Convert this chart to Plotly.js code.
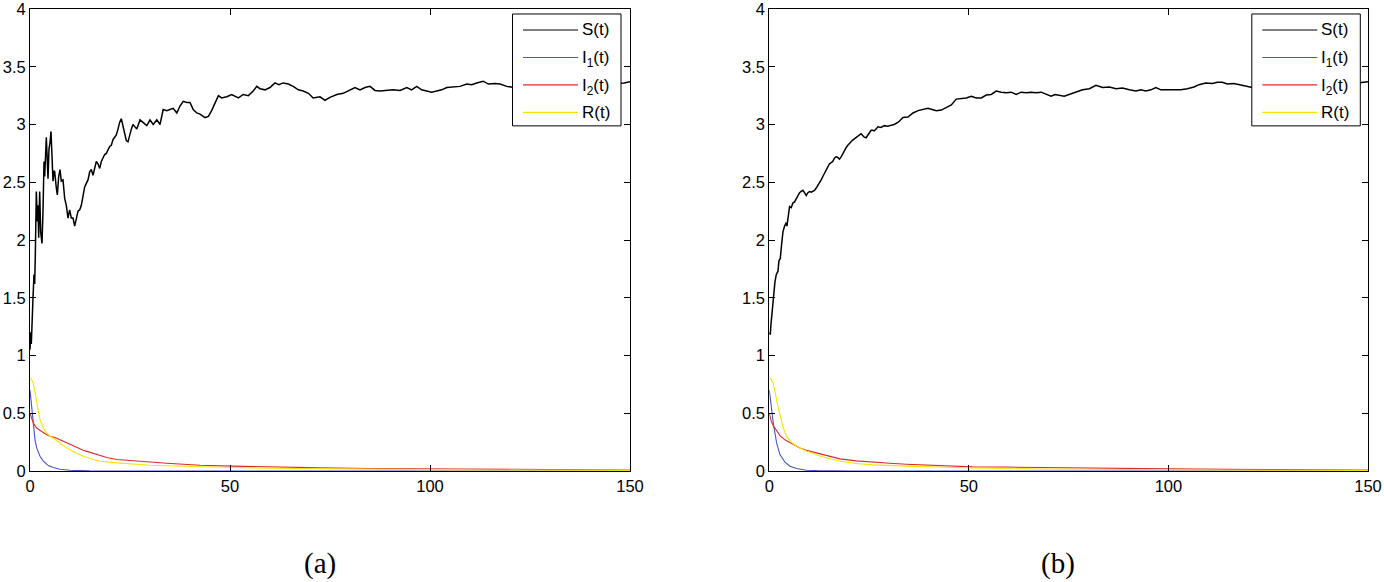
<!DOCTYPE html>
<html>
<head>
<meta charset="utf-8">
<script src="https://cdn.plot.ly/plotly-3.0.1.min.js"></script>
<style>html,body{margin:0;padding:0;background:#fff;}#chart{width:1384px;height:582px;}</style>
</head>
<body>
<div id="chart"></div>
<script>
// ---------- data: [t, value] ----------
const S_a = [[0,1.05],[0.17,1.2],[0.33,1.1],[0.5,1.38],[0.75,1.5],[1.0,1.7],[1.17,1.62],[1.33,1.87],[1.58,2.42],[1.83,2.16],[2.0,2.3],[2.17,2.02],[2.42,2.42],[2.67,2.07],[3.0,1.97],[3.25,2.25],[3.5,2.68],[3.67,2.55],[3.83,2.79],[4.08,2.89],[4.33,2.68],[4.5,2.53],[4.75,2.79],[5.0,2.84],[5.25,2.94],[5.5,2.74],[5.75,2.51],[6.0,2.6],[6.17,2.59],[6.58,2.45],[6.83,2.39],[7.17,2.55],[7.5,2.61],[7.83,2.51],[8.25,2.52],[8.67,2.36],[9.08,2.3],[9.5,2.19],[9.92,2.26],[10.33,2.19],[10.75,2.19],[11.17,2.12],[11.58,2.2],[12.0,2.25],[12.42,2.26],[12.83,2.3],[13.25,2.38],[13.67,2.46],[14.08,2.49],[14.5,2.52],[14.92,2.59],[15.33,2.61],[15.75,2.56],[16.17,2.61],[16.58,2.68],[17.0,2.66],[17.42,2.62],[17.83,2.68],[18.25,2.71],[18.67,2.74],[19.08,2.75],[19.5,2.78],[19.92,2.81],[20.33,2.82],[20.75,2.87],[21.17,2.89],[21.58,2.91],[22.0,2.96],[22.42,3.02],[22.83,3.05],[23.25,2.98],[23.67,2.92],[24.08,2.86],[24.5,2.85],[24.92,2.92],[25.33,2.96],[25.75,3.0],[26.17,2.98],[26.7,2.96],[27.5,3.04],[28.3,3.02],[29.2,2.99],[30.0,3.04],[30.8,3.0],[31.7,3.04],[32.5,3.0],[33.3,3.13],[34.2,3.12],[35.0,3.13],[35.8,3.14],[36.7,3.1],[37.5,3.16],[38.3,3.2],[39.2,3.19],[40.0,3.19],[40.8,3.13],[41.7,3.1],[42.5,3.09],[43.75,3.06],[44.6,3.07],[45.4,3.12],[46.25,3.19],[47.1,3.25],[47.9,3.23],[49.2,3.24],[50.4,3.26],[51.25,3.245],[52.1,3.23],[53.3,3.26],[54.6,3.25],[55.8,3.29],[56.7,3.33],[57.5,3.31],[58.75,3.3],[60,3.32],[61.25,3.36],[62.2,3.345],[63.3,3.36],[64.6,3.35],[65.8,3.33],[67.1,3.3],[68.3,3.29],[69.6,3.27],[70.8,3.23],[72.5,3.24],[73.75,3.21],[75,3.235],[76.7,3.26],[78.3,3.27],[80,3.295],[81.25,3.32],[82.5,3.3],[83.75,3.32],[85,3.33],[86.25,3.295],[87.5,3.29],[89.2,3.295],[90.8,3.3],[92.5,3.295],[94.2,3.32],[95.4,3.3],[96.7,3.33],[97.9,3.3],[99.2,3.29],[100.4,3.28],[101.7,3.29],[102.9,3.3],[104.2,3.32],[105.8,3.325],[107.5,3.33],[109.2,3.35],[110.4,3.345],[111.7,3.36],[113.3,3.375],[114.6,3.35],[116.25,3.355],[117.5,3.35],[119.2,3.33],[121,3.32],[125,3.31],[130,3.33],[135,3.31],[140,3.34],[145,3.35],[148.5,3.36],[150,3.37]];
const I1_a = [[0,0.7],[0.42,0.53],[0.83,0.386],[1.25,0.27],[1.67,0.2],[2.5,0.128],[3.33,0.085],[4.58,0.047],[5.83,0.03],[7.5,0.015],[10,0.006],[12.5,0.002],[15,0.001],[20,0],[50,0],[100,0],[150,0]];
const I2_a = [[0,0.5],[0.42,0.46],[0.83,0.415],[1.67,0.372],[2.5,0.35],[3.75,0.323],[5,0.3],[6.25,0.29],[7.5,0.27],[9.17,0.243],[10.8,0.214],[12.5,0.19],[13.3,0.179],[14.2,0.17],[16.7,0.142],[19.2,0.117],[21.7,0.1],[25.8,0.088],[30,0.078],[34.2,0.067],[38.3,0.058],[42.5,0.05],[50.8,0.042],[59.2,0.034],[72.5,0.027],[85,0.022],[100,0.018],[115,0.014],[130,0.011],[150,0.008]];
const R_a = [[0,0.8],[0.2,0.8],[0.83,0.76],[1.25,0.69],[1.67,0.6],[2.08,0.515],[2.5,0.444],[3.33,0.372],[4.17,0.33],[5.0,0.3],[6.25,0.275],[7.5,0.24],[9.17,0.2],[11.25,0.16],[13.3,0.128],[15.5,0.104],[17.5,0.085],[21.7,0.07],[25.8,0.06],[30,0.05],[36,0.043],[42.5,0.036],[50.8,0.03],[60,0.024],[72.5,0.019],[85,0.015],[100,0.012],[115,0.009],[130,0.007],[150,0.005]];

const S_b = [[0,1.2],[0.25,1.18],[0.42,1.27],[0.75,1.41],[1.08,1.5],[1.42,1.64],[1.75,1.7],[2.17,1.73],[2.42,1.82],[2.75,1.84],[3.08,1.96],[3.42,2.07],[3.83,2.12],[4.25,2.15],[4.42,2.12],[4.75,2.22],[5.08,2.29],[5.5,2.28],[5.9,2.32],[6.33,2.33],[6.75,2.36],[7.17,2.39],[7.58,2.41],[8.0,2.42],[8.42,2.43],[8.83,2.41],[9.25,2.385],[9.67,2.41],[10.08,2.42],[10.5,2.415],[10.9,2.42],[11.33,2.43],[11.75,2.45],[12.17,2.47],[12.58,2.49],[13.0,2.52],[13.42,2.55],[13.83,2.58],[14.25,2.6],[14.67,2.64],[15.08,2.66],[15.5,2.67],[15.9,2.68],[16.33,2.71],[16.75,2.72],[17.17,2.715],[17.58,2.7],[18.0,2.72],[18.4,2.75],[18.83,2.78],[19.25,2.8],[19.67,2.82],[20.1,2.84],[20.5,2.85],[20.9,2.865],[21.33,2.875],[21.75,2.885],[22.2,2.895],[22.6,2.91],[23.0,2.92],[23.4,2.905],[23.8,2.89],[24.25,2.885],[24.7,2.91],[25.1,2.93],[25.5,2.95],[25.9,2.95],[26.3,2.945],[26.75,2.96],[27.2,2.98],[28.0,2.975],[28.8,2.99],[29.6,2.985],[30.5,2.99],[31.3,3.0],[32.3,3.02],[33.5,3.06],[34.75,3.065],[36.0,3.1],[37.3,3.12],[38.5,3.13],[39.75,3.14],[40.8,3.13],[41.85,3.12],[43.1,3.125],[44.35,3.15],[45.6,3.17],[46.85,3.22],[48.1,3.225],[49.35,3.23],[50.6,3.245],[51.85,3.23],[53.1,3.23],[54.35,3.255],[55.6,3.26],[56.85,3.29],[58.1,3.28],[59.4,3.275],[60.6,3.28],[61.85,3.26],[63.1,3.28],[64.35,3.275],[65.6,3.28],[66.85,3.275],[68.1,3.28],[69.35,3.26],[70.6,3.245],[71.6,3.26],[72.7,3.255],[73.9,3.245],[76.0,3.27],[78.5,3.3],[80.2,3.31],[81.85,3.34],[83.5,3.32],[85.2,3.325],[86.85,3.31],[88.5,3.315],[90.2,3.3],[91.85,3.29],[93.1,3.3],[94.35,3.29],[95.6,3.3],[96.85,3.32],[98.1,3.3],[99.75,3.3],[101.4,3.3],[103.1,3.3],[104.75,3.31],[106.4,3.325],[107.65,3.345],[109.35,3.36],[111.0,3.355],[112.25,3.365],[113.5,3.365],[114.75,3.35],[116.4,3.355],[117.7,3.345],[119.35,3.33],[121,3.32],[125,3.31],[130,3.33],[135,3.31],[140,3.34],[145,3.35],[148.5,3.36],[150,3.37]];
const I1_b = [[0,0.7],[1.0,0.415],[1.83,0.243],[2.67,0.142],[3.92,0.076],[5.17,0.042],[6.83,0.022],[9.33,0.007],[12,0.003],[15,0.001],[20,0],[50,0],[150,0]];
const I2_b = [[0,0.5],[0.5,0.43],[1.0,0.392],[1.83,0.343],[2.67,0.306],[3.92,0.27],[5.17,0.243],[6.42,0.222],[7.67,0.2],[9.33,0.179],[11.8,0.157],[14.3,0.134],[17.7,0.105],[21.8,0.088],[26,0.076],[30.2,0.067],[34.3,0.059],[42.7,0.045],[51,0.036],[59.3,0.034],[72.7,0.027],[85,0.022],[100,0.018],[115,0.014],[130,0.011],[150,0.008]];
const R_b = [[0,0.8],[0.3,0.8],[1.0,0.76],[1.42,0.7],[1.83,0.616],[2.67,0.487],[3.5,0.372],[4.33,0.3],[5.58,0.248],[6.83,0.214],[9.33,0.171],[13.5,0.122],[17.7,0.085],[21.8,0.065],[26.0,0.053],[34.3,0.042],[42.7,0.034],[51,0.026],[67.7,0.017],[85,0.013],[100,0.01],[115,0.008],[130,0.006],[150,0.005]];

const seriesNames = ['S(t)', 'I<sub>1</sub>(t)', 'I<sub>2</sub>(t)', 'R(t)'];
const seriesColors = ['#000000', '#4455c8', '#e0282c', '#f2e600'];
const seriesWidths = [1.5, 1.1, 1.1, 1.1];
const xTicks = [0, 50, 100, 150];
const yTicks = [0, 0.5, 1, 1.5, 2, 2.5, 3, 3.5, 4];
const captions = ['(a)', '(b)'];

const panels = [
  {data: [S_a, I1_a, I2_a, R_a], xa: 'x', ya: 'y', dx: 0},
  {data: [S_b, I1_b, I2_b, R_b], xa: 'x2', ya: 'y2', dx: 739.3}
];

const W = 1384, H = 582, mL = 30, mR = 16, mT = 9, mB = 110.5;
const pw = W - mL - mR, ph = H - mT - mB;
const px2x = p => (p - mL) / pw;        // pixel -> paper x
const py2y = p => 1 - (p - mT) / ph;    // pixel -> paper y

const traces = [];
const shapes = [];
const annotations = [];
panels.forEach(p => {
  p.data.forEach((arr, i) => {
    traces.push({
      type: 'scatter', mode: 'lines',
      x: arr.map(d => d[0]), y: arr.map(d => d[1]),
      name: seriesNames[i], showlegend: false,
      xaxis: p.xa, yaxis: p.ya,
      line: {color: seriesColors[i], width: seriesWidths[i]},
      hoverinfo: 'skip'
    });
  });
  // legend box (MATLAB style) drawn with shapes + text
  shapes.push({type: 'rect', xref: 'paper', yref: 'paper', layer: 'above',
    x0: px2x(512.5 + p.dx), x1: px2x(621 + p.dx), y0: py2y(126), y1: py2y(14),
    fillcolor: '#fff', line: {color: '#000', width: 1}});
  seriesNames.forEach((nm, i) => {
    const rowY = 30 + i * 27.5;
    shapes.push({type: 'line', xref: 'paper', yref: 'paper', layer: 'above',
      x0: px2x(523 + p.dx), x1: px2x(578 + p.dx), y0: py2y(rowY), y1: py2y(rowY),
      line: {color: seriesColors[i], width: 1.1}});
    annotations.push({text: nm, xref: 'paper', yref: 'paper', x: px2x(580 + p.dx), y: py2y(rowY + (i === 1 || i === 2 ? 2 : 0)),
      xanchor: 'left', yanchor: 'middle', showarrow: false,
      font: {family: 'Liberation Sans, Arial, sans-serif', size: 17, color: '#000'}});
  });
});

const tickFont = {family: 'Liberation Sans, Arial, sans-serif', size: 16.5, color: '#000'};
function xax(domain, anchor) {
  return {domain: domain, anchor: anchor, range: [0, 150], tickvals: xTicks, ticktext: xTicks.map(String),
    ticks: 'inside', ticklen: 6, tickwidth: 1, tickcolor: '#000', showline: true, linecolor: '#000', linewidth: 1,
    mirror: 'ticks', showgrid: false, zeroline: false, tickfont: tickFont, fixedrange: true, ticklabeloverflow: 'allow'};
}
function yax(anchor) {
  return {domain: [0, 1], anchor: anchor, range: [0, 4], tickvals: yTicks, ticktext: yTicks.map(String),
    ticks: 'inside', ticklen: 6, tickwidth: 1, tickcolor: '#000', showline: true, linecolor: '#000', linewidth: 1,
    mirror: 'ticks', showgrid: false, zeroline: false, tickfont: tickFont, fixedrange: true, ticklabeloverflow: 'allow'};
}

captions.forEach((c, i) => annotations.push({
  text: c, xref: 'paper', yref: 'paper', x: px2x(i === 0 ? 320 : 1058),
  y: py2y(564), xanchor: 'center', yanchor: 'middle', showarrow: false,
  font: {family: 'Liberation Serif', size: 29, color: '#000'}
}));

const layout = {
  width: W, height: H, margin: {l: mL, r: mR, t: mT, b: mB, pad: 0},
  paper_bgcolor: '#fff', plot_bgcolor: '#fff', showlegend: false,
  xaxis: xax([0, 600 / pw], 'y'),
  yaxis: yax('x'),
  xaxis2: xax([739.3 / pw, 1], 'y2'),
  yaxis2: yax('x2'),
  shapes: shapes,
  annotations: annotations
};
Plotly.newPlot('chart', traces, layout, {displayModeBar: false, staticPlot: true});
</script>
</body>
</html>
